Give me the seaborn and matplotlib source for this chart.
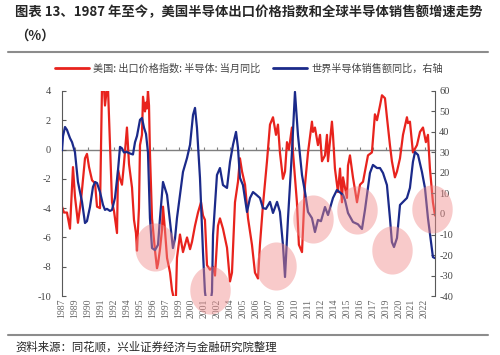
import numpy as np
import pandas as pd
import seaborn as sns
import matplotlib.pyplot as plt
from matplotlib.lines import Line2D
from matplotlib.path import Path

# US semiconductor export price index, yoy (left axis)
red_t = [1987.75, 1987.94, 1988.23, 1988.52, 1988.81, 1989.00, 1989.29, 1989.58, 1989.97, 1990.16,
         1990.36, 1990.65, 1990.94, 1991.13, 1991.42, 1991.61, 1991.80, 1991.90, 1992.09, 1992.19,
         1992.38, 1992.58, 1992.77, 1993.06, 1993.16, 1993.35, 1993.54, 1993.73, 1994.02, 1994.22,
         1994.51, 1994.70, 1994.89, 1994.99, 1995.18, 1995.28, 1995.47, 1995.57, 1995.76, 1995.86,
         1995.95, 1996.05, 1996.15, 1996.24, 1996.44, 1996.73, 1996.92, 1997.02, 1997.21, 1997.40,
         1997.50, 1997.69, 1997.89, 1998.18, 1998.37, 1998.56, 1998.75, 1998.85, 1999.14, 1999.43,
         1999.82, 2000.11, 2000.30, 2000.59, 2000.88, 2001.17, 2001.36, 2001.55, 2001.75, 2002.04,
         2002.33, 2002.52, 2002.81, 2003.00, 2003.29, 2003.68, 2003.97, 2004.16, 2004.45, 2004.74,
         2004.93, 2005.13, 2005.42, 2005.71, 2006.09, 2006.38, 2006.67, 2006.86, 2007.15, 2007.54,
         2007.83, 2008.12, 2008.41, 2008.60, 2008.79, 2009.08, 2009.28, 2009.47, 2009.66, 2009.95,
         2010.05, 2010.43, 2010.62, 2010.92, 2011.21, 2011.50, 2011.88, 2011.98, 2012.17, 2012.46,
         2012.66, 2012.85, 2013.14, 2013.33, 2013.43, 2013.81, 2013.91, 2014.10, 2014.39, 2014.59,
         2014.78, 2014.88, 2015.26, 2015.36, 2015.55, 2015.84, 2016.23, 2016.52, 2016.81, 2017.00,
         2017.29, 2017.67, 2017.96, 2018.16, 2018.45, 2018.64, 2018.93, 2019.12, 2019.41, 2019.60,
         2019.89, 2020.09, 2020.38, 2020.67, 2021.05, 2021.15, 2021.34, 2021.63, 2022.02, 2022.31,
         2022.60, 2022.88, 2023.08, 2023.27, 2023.56, 2023.76]
red_v = [-3.9, -4.3, -4.3, -5.4, -1.2, -3.2, -5.0, -3.5, -0.6, -0.3,
         -1.2, -2.1, -2.3, -3.9, -4.0, 4.2, 4.2, 3.0, 4.2, 4.2,
         0.5, -3.6, -4.2, -5.7, -1.4, -2.0, -2.4, -1.0, 1.5, -1.0,
         -2.6, -4.8, -5.7, -6.9, -4.0, 0.3, 1.0, 3.6, 2.6, 3.2,
         2.8, 4.0, 3.0, -0.2, -4.7, -6.9, -8.1, -7.8, -6.8, -5.5,
         -3.9, -5.5, -7.4, -8.4, -9.6, -10.2, -10.0, -7.4, -5.8, -7.0,
         -6.0, -6.8, -6.3, -5.2, -4.3, -3.6, -4.5, -4.8, -7.9, -8.2,
         -8.0, -8.6, -5.2, -4.7, -5.4, -6.7, -9.0, -8.4, -3.6, -2.2,
         -0.6, -1.5, -2.4, -4.7, -6.5, -8.4, -8.8, -6.5, -3.8, -0.8,
         1.7, 2.2, 1.0, 1.7, -0.2, -2.0, -1.5, 0.5, 0.0, 1.5,
         -0.2, -3.6, -6.5, -7.0, -2.4, -0.2, 1.9, 1.2, 1.5, 0.3,
         1.0, -0.8, -0.4, 1.0, -0.8, 1.9, 1.0, -1.3, -2.9, -1.3,
         -3.6, -1.9, -3.3, -1.1, -0.4, -1.9, -3.6, -2.4, -2.2, -1.5,
         -0.4, -0.2, 2.4, 2.0, 3.0, 3.7, 3.5, 2.2, 0.3, -0.8,
         -1.9, -1.5, -0.6, 1.0, 2.2, 1.8, 1.9, -0.2, 0.3, 1.2,
         1.5, 0.5, 1.0, -1.3, -3.6, -4.5]

# world semiconductor sales, yoy (right axis)
blue_t = [1987.75, 1987.85, 1988.04, 1988.23, 1988.52, 1988.72, 1989.00, 1989.29, 1989.68, 1989.97,
          1990.16, 1990.45, 1990.74, 1990.94, 1991.13, 1991.42, 1991.71, 1991.90, 1992.09, 1992.38,
          1992.58, 1992.87, 1993.16, 1993.35, 1993.54, 1993.73, 1994.02, 1994.31, 1994.60, 1994.80,
          1994.99, 1995.28, 1995.47, 1995.67, 1995.86, 1996.05, 1996.24, 1996.44, 1996.73, 1997.02,
          1997.21, 1997.50, 1997.89, 1998.18, 1998.46, 1998.66, 1998.85, 1999.14, 1999.43, 1999.82,
          2000.11, 2000.40, 2000.59, 2000.78, 2001.07, 2001.36, 2001.55, 2001.75, 2002.04, 2002.23,
          2002.33, 2002.71, 2003.00, 2003.29, 2003.68, 2003.97, 2004.26, 2004.55, 2004.74, 2004.93,
          2005.22, 2005.61, 2005.90, 2006.19, 2006.48, 2006.86, 2007.15, 2007.44, 2007.83, 2008.12,
          2008.51, 2008.79, 2009.08, 2009.28, 2009.57, 2009.95, 2010.24, 2010.53, 2010.92, 2011.21,
          2011.50, 2011.88, 2012.17, 2012.46, 2012.75, 2013.14, 2013.43, 2013.91, 2014.29, 2014.88,
          2015.07, 2015.36, 2015.84, 2016.32, 2016.71, 2017.00, 2017.48, 2017.77, 2018.16, 2018.45,
          2018.74, 2019.12, 2019.41, 2019.60, 2019.80, 2020.09, 2020.38, 2020.67, 2021.05, 2021.34,
          2021.63, 2021.83, 2022.12, 2022.50, 2022.79, 2023.08, 2023.37, 2023.56, 2023.76]
blue_v = [31, 38, 42.4, 41, 37, 35, 30.2, 15.6, 6, -4.4,
          -3.5, 3.4, 13.2, 15.6, 15.1, 10.7, 4.4, 2, 2.5, 1.5,
          2, 8, 21.5, 32.7, 32, 30, 30.2, 29.5, 29, 35,
          38, 45.9, 46.8, 42, 39, 30, -2, -16.6, -17.6, -15,
          -2, 15.6, 9.3, -3.9, -16.6, -12, -2, 9.3, 20.5, 27.3,
          33.7, 48.3, 51.7, 42, 17.6, -18.5, -38, -45, -45, -38,
          -10.2, 19, 22.4, 14.1, 12.7, 25.4, 33.7, 40, 32.2, 17.6,
          14.1, 1, 7.8, 10.7, 9.5, 7.8, 2.9, 2.5, 5.9, 0.5,
          5.9, 1, -15, -30.7, -2, 30.2, 59.5, 38.5, 19, 10.7,
          1, -2, -8.8, -2.9, -3.5, 3.4, -0.5, 7.8, 11.7, 9.3,
          6.8, 0.5, -3.9, -5, -7.3, 2, 20, 23.9, 22.4, 22.4,
          20, 14.1, -2, -13.7, -16.1, -11.7, 4.4, 5.9, 7.8, 12.7,
          25.4, 30.2, 28.8, 20.5, 12.7, -2, -13.7, -21, -21.5]

tick_dates = ['1987-10', '1989-01', '1990-04', '1991-07', '1992-10', '1994-01', '1995-04',
              '1996-07', '1997-10', '1999-01', '2000-04', '2001-07', '2002-10', '2004-01',
              '2005-04', '2006-07', '2007-10', '2009-01', '2010-04', '2011-07', '2012-10',
              '2014-01', '2015-04', '2016-07', '2017-10', '2019-01', '2020-04', '2021-07', '2022-10']

# highlighted troughs (pink circles), in left-axis units
hl_t = [1996.73, 2002.04, 2008.41, 2011.98, 2016.23, 2019.60, 2023.47]
hl_v = [-6.66, -9.59, -7.95, -4.74, -4.13, -6.86, -4.06]

RED = '#e8231d'
BLUE = '#1b2a8a'
GREY = '#595959'

sns.set_style('white')
plt.rcParams['font.family'] = ['Noto Sans CJK SC', 'DejaVu Sans']
plt.rcParams['axes.unicode_minus'] = False

red_df = pd.DataFrame({'t': red_t, 'v': red_v})
blue_df = pd.DataFrame({'t': blue_t, 'v': blue_v})
tick_pos = [int(d[:4]) + (int(d[5:]) - 1) / 12 for d in tick_dates]
tick_lab = [d[:4] for d in tick_dates]

fig = plt.figure(figsize=(5, 3.55), dpi=100)
ax = fig.add_axes([0.124, 0.166, 0.746, 0.578])
ax2 = ax.twinx()

sns.lineplot(data=red_df, x='t', y='v', ax=ax, color=RED, lw=1.6)
sns.lineplot(data=blue_df, x='t', y='v', ax=ax2, color=BLUE, lw=1.6)

ax.set_xlim(1987.75, 2023.76)
ax.set_ylim(-10, 4)
ax2.set_ylim(-40, 60)
ax.set_yticks(range(-10, 5, 2))
ax2.set_yticks(range(-40, 61, 10))
for a in (ax, ax2):
    a.set_xlabel('')
    a.set_ylabel('')
    for s in a.spines.values():
        s.set_visible(False)
ax.spines['left'].set_visible(True)
ax.spines['left'].set_color(GREY)
ax2.spines['right'].set_visible(True)
ax2.spines['right'].set_color(GREY)

ax.tick_params(axis='y', direction='in', length=3, color=GREY, pad=8, labelcolor='#444444')
ax2.tick_params(axis='y', direction='in', length=3, color=GREY, pad=3, labelcolor='#444444')
for lab in ax.get_yticklabels() + ax2.get_yticklabels():
    lab.set_fontfamily('Liberation Serif')
    lab.set_fontsize(7.5)

ax.set_xticks(tick_pos)
ax.set_xticklabels(tick_lab, rotation=90, fontfamily='Liberation Serif', fontsize=7, color='#666666')
ax.tick_params(axis='x', length=0, pad=2)

# category axis sits on the zero line
zero = ax.secondary_xaxis(10 / 14)
zero.set_xticks(tick_pos)
zero.tick_params(axis='x', direction='out', length=2.5, color='#7f7f7f', labeltop=False, labelbottom=False)
for s in zero.spines.values():
    s.set_color('#7f7f7f')
    s.set_linewidth(1.0)

# pink highlight circles (drawn on top, translucent)
th = np.linspace(0, 2 * np.pi, 80)
ell = Path(np.column_stack([0.84 * np.cos(th), np.sin(th)]))
ax2.scatter(hl_t, hl_v, transform=ax.transData, marker=ell, s=1200, color='#f08a8a',
            alpha=0.45, linewidths=0, zorder=5, clip_on=False)

handles = [Line2D([], [], color=RED, lw=2), Line2D([], [], color=BLUE, lw=2)]
labels = ['美国: 出口价格指数: 半导体: 当月同比', '世界半导体销售额同比，右轴']
fig.legend(handles, labels, loc='center', bbox_to_anchor=(0.498, 0.806), ncol=2, frameon=False,
           prop={'size': 7.3}, handlelength=3.4, handletextpad=0.4, columnspacing=1.2,
           labelcolor='#444444')

fig.text(0.03, 0.965, '图表 13、1987 年至今，美国半导体出口价格指数和全球半导体销售额增速走势',
         fontsize=9.6, fontweight='bold', va='center', ha='left')
fig.text(0.03, 0.9, '（%）', fontsize=9.6, fontweight='bold', va='center', ha='left')
fig.add_artist(Line2D([0.016, 0.976], [0.853, 0.853], color='#8c8c8c', lw=1.5))
fig.add_artist(Line2D([0.016, 0.976], [0.056, 0.056], color='#8c8c8c', lw=1.5))
fig.text(0.03, 0.022, '资料来源：同花顺，兴业证券经济与金融研究院整理', fontsize=8.2, va='center', ha='left')

fig.savefig('out.png', dpi=100)
